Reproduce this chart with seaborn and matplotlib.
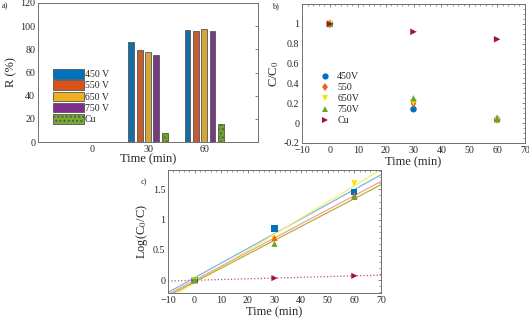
import numpy as np
import pandas as pd
import matplotlib
matplotlib.use("Agg")
import matplotlib.pyplot as plt
import seaborn as sns
from matplotlib.patches import Patch
from matplotlib.lines import Line2D

sns.set_theme(style="white")
plt.rcParams["font.family"] = ["Liberation Serif", "DejaVu Serif"]
plt.rcParams["mathtext.fontset"] = "stix"

# ---- data ----
times = [0, 30, 60]
series = ["450 V", "550 V", "650 V", "750 V", "Cu"]
removal_450 = [0, 86, 96.5]
removal_550 = [0, 79.5, 96]
removal_650 = [0, 77.5, 97.5]
removal_750 = [0, 75.5, 96]
removal_cu = [0, 8, 15.5]

ratio_labels = ["450V", "550", "650V", "750V", "Cu"]
ratio_450 = [1.0, 0.14, 0.035]
ratio_550 = [1.0, 0.20, 0.040]
ratio_650 = [1.0, 0.21, 0.025]
ratio_750 = [1.0, 0.25, 0.042]
ratio_cu = [1.0, 0.92, 0.845]

bar_colors = ["#0072BD", "#D95319", "#EDB120", "#7E2F8E", "#77AC30"]
pt_colors = ["#0072BD", "#F0601E", "#F2E600", "#6FA32E", "#A2142F"]
line_colors = ["#79B7E6", "#EFA58F", "#F3F06A", "#B2B23E", "#C8506A"]
markers_b = ["o", "d", "v", "^", ">"]
markers_c = ["s", "^", "v", "^", ">"]

removal = [removal_450, removal_550, removal_650, removal_750, removal_cu]
ratios = [ratio_450, ratio_550, ratio_650, ratio_750, ratio_cu]

bar_df = pd.DataFrame({
    "time": [str(t) for _ in series for t in times],
    "series": [s for s in series for _ in times],
    "R": [v for vals in removal for v in vals],
})

fig = plt.figure(figsize=(5.29, 3.25), dpi=100)
W, H = 529, 325


def px_axes(x0, y0, x1, y1):
    return fig.add_axes([x0 / W, 1 - y1 / H, (x1 - x0) / W, (y1 - y0) / H])


def style_axes(ax, minor=True):
    for sp in ax.spines.values():
        sp.set_color("#707070")
        sp.set_linewidth(0.7)
    ax.tick_params(direction="in", length=2.5, width=0.6, labelsize=7.2,
                   top=True, right=True, color="#707070", pad=2)
    if minor:
        ax.minorticks_on()
        ax.tick_params(which="minor", direction="in", length=1.3, width=0.5,
                       top=True, right=True, color="#707070")


# ---- panel a ----
ax_a = px_axes(38, 3, 258, 142)
sns.barplot(data=bar_df, x="time", y="R", hue="series", palette=bar_colors,
            width=0.74, gap=0.3, edgecolor="#555555", linewidth=0.6,
            legend=False, ax=ax_a)
for patch in ax_a.patches[-3:]:
    patch.set_hatch("....")
    patch.set_edgecolor("#4a6a20")
ax_a.set_xlim(-0.96, 2.96)
ax_a.set_ylim(0, 120)
ax_a.set_yticks(range(0, 121, 20))
ax_a.set_xlabel("Time (min)", fontsize=9, labelpad=0)
ax_a.set_ylabel("R (%)", fontsize=9, labelpad=2)
style_axes(ax_a, minor=False)
ax_a.tick_params(axis="x", bottom=False, top=False)
handles_a = [Patch(facecolor=c, edgecolor="#555555", linewidth=0.6,
                   hatch="...." if s == "Cu" else None)
             for c, s in zip(bar_colors, series)]
ax_a.legend(handles_a, series, loc="lower left", bbox_to_anchor=(0.05, 0.1),
            frameon=False, fontsize=7, handlelength=3.2, handleheight=1.15,
            handletextpad=0.1, labelspacing=0.12, borderaxespad=0)

# ---- panel b ----
ax_b = px_axes(302, 4, 525, 143)
for lab, vals, col, mk in zip(ratio_labels, ratios, pt_colors, markers_b):
    sns.scatterplot(x=times, y=vals, color=col, marker=mk, s=22,
                    edgecolor="none", ax=ax_b, zorder=3)
ax_b.set_xlim(-10, 70)
ax_b.set_ylim(-0.2, 1.2)
ax_b.set_yticks([-0.2, 0, 0.2, 0.4, 0.6, 0.8, 1])
ax_b.set_yticklabels(["-0.2", "0", "0.2", "0.4", "0.6", "0.8", "1"])
ax_b.set_xticks(range(-10, 71, 10))
ax_b.set_xlabel("Time (min)", fontsize=9, labelpad=1)
ax_b.set_ylabel("C/C$_0$", fontsize=9, labelpad=2)
style_axes(ax_b)
handles_b = [Line2D([], [], linestyle="none", marker=mk, color=col,
                    markersize=4.5, markeredgewidth=0)
             for col, mk in zip(pt_colors, markers_b)]
ax_b.legend(handles_b, ratio_labels, loc="lower left",
            bbox_to_anchor=(0.05, 0.1), frameon=False, fontsize=7.2,
            handlelength=1.5, handletextpad=0.5, labelspacing=0.2,
            borderaxespad=0)

# ---- panel c ----
ax_c = px_axes(168, 170, 381, 293)
ax_c.set_xlim(-10, 70)
ax_c.set_ylim(-0.21, 1.82)
order = [4, 0, 2, 1, 3]
for i in order:
    y = -np.log10(np.array(ratios[i]))
    sns.regplot(x=np.array(times, dtype=float), y=y, scatter=False, ci=None,
                truncate=False, ax=ax_c,
                line_kws=dict(color=line_colors[i], lw=0.9,
                              ls=":" if i == 4 else "-"))
for i in order:
    y = -np.log10(np.array(ratios[i]))
    sns.scatterplot(x=times, y=y, color=pt_colors[i], marker=markers_c[i],
                    s=20, edgecolor="none", ax=ax_c, zorder=4)
ax_c.set_xlim(-10, 70)
ax_c.set_ylim(-0.21, 1.82)
ax_c.set_yticks([0, 0.5, 1, 1.5])
ax_c.set_yticklabels(["0", "0.5", "1", "1.5"])
ax_c.set_xticks(range(-10, 71, 10))
ax_c.set_xlabel("Time (min)", fontsize=9, labelpad=1)
ax_c.set_ylabel("Log(C$_0$/C)", fontsize=9, labelpad=2)
style_axes(ax_c)

fig.text(2 / W, 1 - 8 / H, "a)", fontsize=6)
fig.text(272 / W, 1 - 8 / H, "b)", fontsize=6)
fig.text(141 / W, 1 - 184 / H, "c)", fontsize=6)

fig.savefig("out.png", dpi=100)
